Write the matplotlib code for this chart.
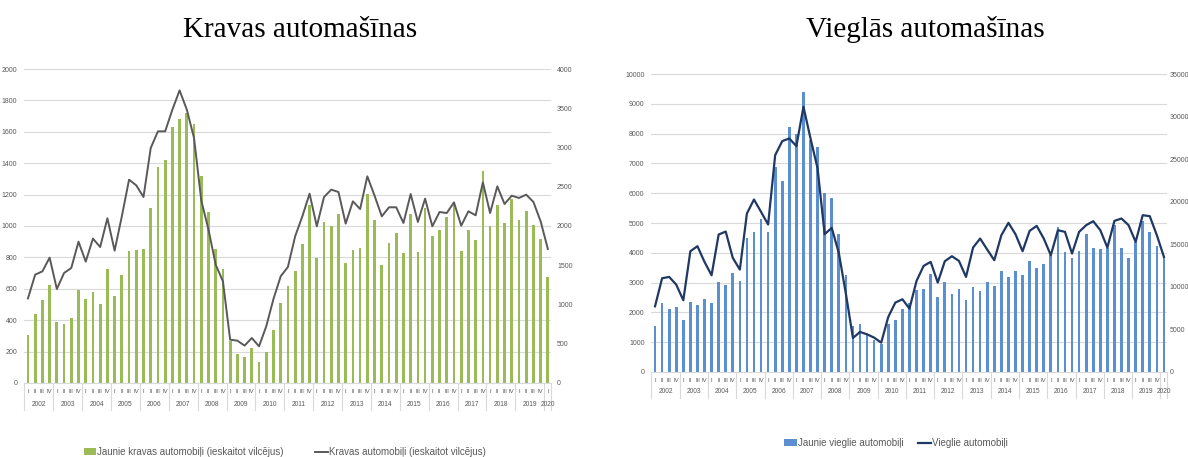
import matplotlib.pyplot as plt
import matplotlib.transforms as mtransforms
from matplotlib.patches import Patch
from matplotlib.lines import Line2D
import numpy as np

plt.rcParams['font.family'] = ['Liberation Sans', 'DejaVu Sans']

quarters = ['I', 'II', 'III', 'IV'] * 18 + ['I']
years = [str(y) for y in range(2002, 2021)]

# Kravas automašīnas (quarterly, 2002 I .. 2020 I)
trucks_new = [307, 440, 527, 627, 387, 377, 413, 590, 532, 578, 500, 724,
              553, 690, 840, 848, 855, 1115, 1375, 1418, 1633, 1680, 1720, 1650,
              1320, 1090, 852, 728, 270, 185, 163, 220, 135, 197, 335, 510,
              616, 715, 885, 1132, 796, 1025, 998, 1076, 764, 845, 858, 1206,
              1040, 749, 892, 955, 830, 1078, 836, 1115, 938, 977, 1055, 1134,
              839, 977, 909, 1352, 998, 1132, 1021, 1172, 1038, 1098, 1008, 919,
              675]
trucks_all = [1078, 1380, 1422, 1597, 1197, 1401, 1465, 1800, 1546, 1839, 1732, 2098,
              1686, 2123, 2590, 2518, 2369, 2993, 3206, 3206, 3482, 3728, 3482, 3121,
              2327, 1953, 1507, 1295, 552, 539, 476, 573, 467, 722, 1070, 1359,
              1478, 1868, 2123, 2412, 1996, 2369, 2463, 2433, 2030, 2314, 2216, 2633,
              2386, 2123, 2238, 2238, 2038, 2407, 2051, 2348, 1996, 2178, 2165, 2301,
              2004, 2187, 2136, 2556, 2165, 2505, 2280, 2386, 2357, 2399, 2306, 2059,
              1707]

# Vieglās automašīnas
cars_new = [1557, 2307, 2106, 2184, 1736, 2352, 2262, 2442, 2330, 3024, 2912, 3315,
            3069, 4502, 4693, 5130, 4693, 6866, 6400, 8232, 7986, 9386, 7800, 7560,
            5992, 5846, 4648, 3248, 1534, 1624, 1288, 1064, 950, 1602, 1758, 2128,
            2330, 2766, 2789, 3304, 2520, 3035, 2632, 2789, 2408, 2845, 2722, 3035,
            2890, 3394, 3192, 3382, 3248, 3718, 3506, 3618, 3920, 4872, 4032, 3830,
            4077, 4626, 4178, 4144, 4150, 4928, 4178, 3830, 4368, 5062, 4704, 4234,
            3864]
cars_all = [7720, 11012, 11169, 10268, 8426, 14187, 14775, 12933, 11365, 16146, 16499, 13403,
            12031, 18615, 20261, 18811, 17322, 25473, 27119, 27433, 26532, 31156, 27433, 23906,
            16185, 16930, 13991, 9210, 3997, 4703, 4428, 4037, 3449, 6466, 8152, 8543,
            7446, 10699, 12462, 12933, 10503, 13011, 13599, 13050, 11169, 14618, 15676, 14383,
            13129, 16068, 17518, 16185, 14187, 16577, 17165, 15676, 13717, 16656, 16460, 13913,
            16460, 17244, 17714, 16656, 14618, 17753, 18027, 17244, 15284, 18419, 18302, 16068,
            13521]

GRAY = '#595959'
GRID = '#d9d9d9'


def draw_panel(rect, title, title_x, bars, line, bar_color, line_color, line_w,
               left_max, left_step, right_max, right_step, labels, legend_xy,
               right_pad, colspace):
    ax = fig.add_axes(rect)
    x = np.arange(len(bars))
    ax.bar(x, bars, width=0.38, color=bar_color, zorder=2)
    ax.set_xlim(-0.5, len(bars) - 0.5)
    ax.set_ylim(0, left_max)
    ax.set_yticks(np.arange(0, left_max + 1, left_step))
    ax.yaxis.grid(True, color=GRID, lw=0.8, zorder=0)
    ax.set_axisbelow(True)
    ax.set_xticks([])
    for s in ['top', 'right', 'left']:
        ax.spines[s].set_visible(False)
    ax.spines['bottom'].set_color(GRID)
    ax.tick_params(axis='y', length=0, labelsize=5, labelcolor=GRAY, pad=5)

    ax2 = ax.twinx()
    ax2.plot(x, line, color=line_color, lw=line_w, zorder=3)
    ax2.set_ylim(0, right_max)
    ax2.set_yticks(np.arange(0, right_max + 1, right_step))
    for s in ax2.spines.values():
        s.set_visible(False)
    ax2.tick_params(axis='y', length=0, labelsize=5, labelcolor=GRAY,
                    pad=right_pad)

    # multi-level category axis
    tr = mtransforms.blended_transform_factory(ax.transData, ax.transAxes)
    for i, q in enumerate(quarters):
        ax.text(i, -0.028, q, transform=tr, ha='center', va='center',
                fontsize=4.3, color=GRAY)
    for k, yr in enumerate(years):
        idx = [i for i in range(len(bars)) if i // 4 == k]
        ax.text(np.mean(idx), -0.067, yr, transform=tr, ha='center',
                va='center', fontsize=4.8, color=GRAY)
    seps = [-0.5] + [4 * k + 3.5 for k in range(18)] + [len(bars) - 0.5]
    for sx in seps:
        ax.plot([sx, sx], [0, -0.087], transform=tr, color=GRID, lw=0.8,
                clip_on=False)

    fig.text(title_x, 0.935, title, ha='center', va='center',
             fontsize=21, family='Liberation Serif')

    handles = [Patch(facecolor=bar_color, edgecolor='none'),
               Line2D([0], [0], color=line_color, lw=line_w)]
    fig.legend(handles, labels, loc='center', bbox_to_anchor=legend_xy,
               ncol=2, frameon=False, fontsize=7, labelcolor=GRAY,
               handlelength=1.3, handletextpad=0.1, columnspacing=colspace)
    return ax


fig = plt.figure(figsize=(11.88, 4.57), dpi=100)

draw_panel([0.0205, 0.162, 0.4437, 0.687], 'Kravas automašīnas', 0.2525,
           trucks_new, trucks_all, '#9bbb59', '#595959', 1.4,
           2000, 200, 4000, 500,
           ['Jaunie kravas automobiļi (ieskaitot vilcējus)',
            'Kravas automobiļi (ieskaitot vilcējus)'], (0.2395, 0.011), 4, 3.2)

draw_panel([0.5484, 0.186, 0.4343, 0.652], 'Vieglās automašīnas', 0.7786,
           cars_new, cars_all, '#5b8fd0', '#1f3864', 1.6,
           10000, 1000, 35000, 5000,
           ['Jaunie vieglie automobiļi', 'Vieglie automobiļi'], (0.754, 0.03),
           1.5, 1.5)

fig.savefig('out.png', dpi=100)
